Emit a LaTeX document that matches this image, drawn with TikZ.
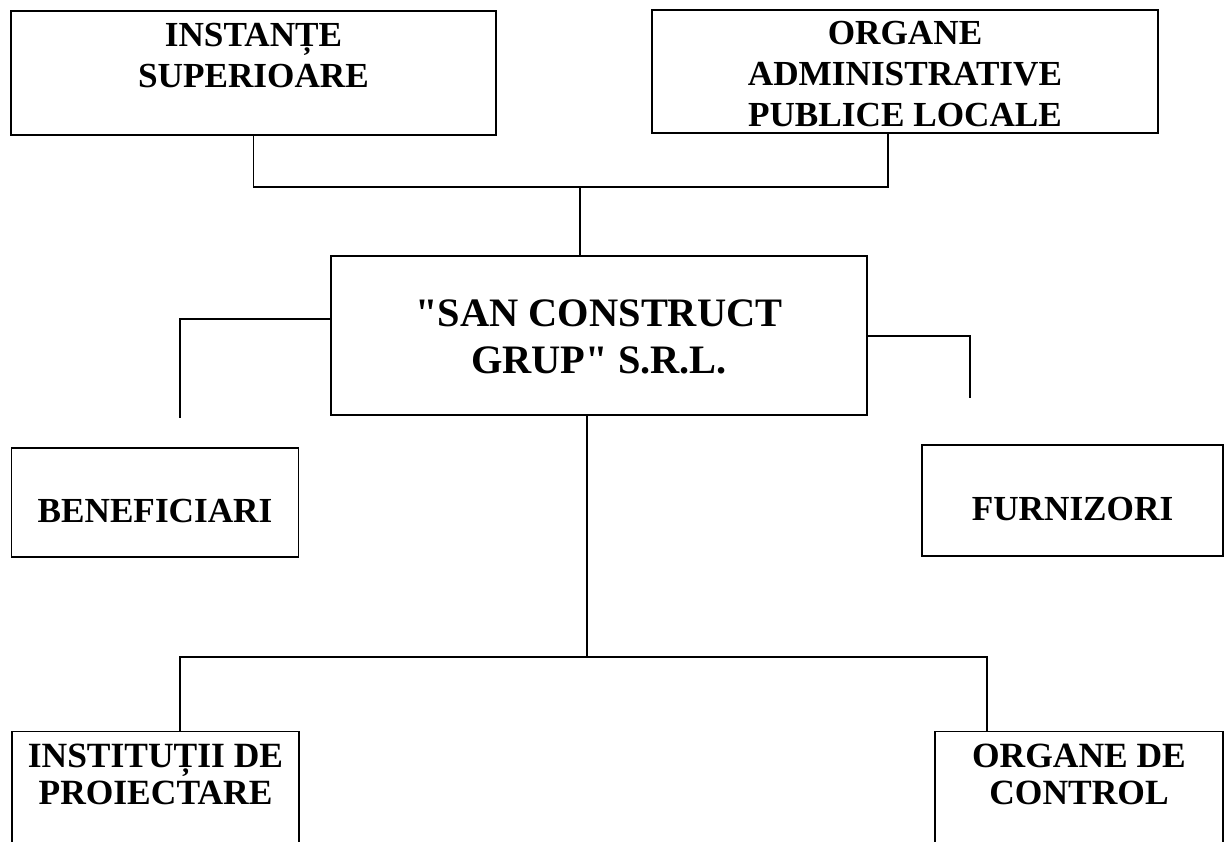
\documentclass[tikz,border=0pt]{standalone}
\usepackage{fontspec}
\usepackage{tikz}
\usetikzlibrary{positioning}
\setmainfont{Liberation Serif}
\newdimen\pxu \pxu=0.75pt

\begin{document}
\begin{tikzpicture}[x=0.75pt,y=-0.75pt,
  box/.style={draw,line width=1.1pt,inner sep=0pt},
  lbl/.style={align=center,inner sep=0pt,font=\bfseries\fontsize{26.4pt}{30.5pt}\selectfont},
  mainlbl/.style={lbl,font=\bfseries\fontsize{30.3pt}{35.5pt}\selectfont},
  lowlbl/.style={lbl,font=\bfseries\fontsize{26.6pt}{28pt}\selectfont},
  link/.style={line width=1.1pt}]
  \useasboundingbox (0,0) rectangle (1225,842);
  \clip (0,0) rectangle (1225,842);

  \node[box,minimum width=485\pxu,minimum height=124\pxu] (sup) at (253.5,73) {};
  \node[box,minimum width=506\pxu,minimum height=123\pxu] (adm) at (905,71.5) {};
  \node[box,minimum width=536\pxu,minimum height=159\pxu] (main) at (599,335.5) {};
  \node[box,minimum width=287\pxu,minimum height=109\pxu] (ben) at (155,502.5) {};
  \node[box,minimum width=301\pxu,minimum height=111\pxu] (fur) at (1072.5,500.5) {};
  \node[box,minimum width=287\pxu,minimum height=149\pxu] (ins) at (155.5,806) {};
  \node[box,minimum width=288\pxu,minimum height=149\pxu] (ctl) at (1079,806) {};

  \node[lbl,below=13\pxu of sup.north] (supt) {INSTANȚE\\SUPERIOARE};
  \node[lbl,below=12\pxu of adm.north] (admt) {ORGANE\\ADMINISTRATIVE\\PUBLICE LOCALE};
  \node[mainlbl,below=44\pxu of main.north] (maint) {\textquotedbl SAN CONSTRUCT\\GRUP\textquotedbl{} S.R.L.};
  \node[lbl,below=52\pxu of ben.north] (bent) {BENEFICIARI};
  \node[lbl,below=53\pxu of fur.north] (furt) {FURNIZORI};
  \node[lowlbl,below=13\pxu of ins.north] (inst) {INSTITUȚII DE\\PROIECTARE};
  \node[lowlbl,below=13\pxu of ctl.north] (ctlt) {ORGANE DE\\CONTROL};

  \coordinate (tj) at (580,187);
  \coordinate (lj) at (180,319);
  \coordinate (le) at (180,418);
  \coordinate (rj) at (970,336);
  \coordinate (re) at (970,398);
  \coordinate (bj) at (587,657);
  \coordinate (bl) at (180,657);
  \coordinate (br) at (987,657);

  \draw[link] (sup.south) |- (tj) -| ([xshift=-17\pxu]adm.south);
  \draw[link] (tj) -- (tj |- main.north);
  \draw[link] (main.west |- lj) -| (le);
  \draw[link] (main.east |- rj) -| (re);
  \draw[link] (main.south -| bj) -- (bj);
  \draw[link] (ins.north -| bl) -- (bl) -- (br) -- (ctl.north -| br);
\end{tikzpicture}
\end{document}
